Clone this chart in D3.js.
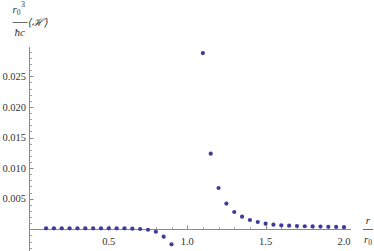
<!DOCTYPE html>
<html><head><meta charset="utf-8">
<script src="https://cdn.jsdelivr.net/npm/d3@7"></script>
<style>
html,body{margin:0;padding:0;background:#fff;}
svg{display:block;}
text{font-family:"Liberation Serif","DejaVu Serif",serif;fill:#333;}
</style></head>
<body>
<script>
const rValues = [0.10,0.15,0.20,0.25,0.30,0.35,0.40,0.45,0.50,0.55,0.60,0.65,0.70,0.75,0.80,0.85,0.90,
                 1.10,1.15,1.20,1.25,1.30,1.35,1.40,1.45,1.50,1.55,1.60,1.65,1.70,1.75,1.80,1.85,1.90,1.95,2.00];
const hValues = [0.00016,0.00016,0.00016,0.00016,0.00016,0.00016,0.00016,0.00016,0.00016,0.00016,0.00016,0.00011,0.00005,-0.00007,-0.0004,-0.0012,-0.00245,
                 0.0288,0.01235,0.00675,0.0042,0.00283,0.00206,0.00152,0.00119,0.00092,0.00075,0.00065,0.00059,0.00054,0.0005,0.00047,0.00044,0.00041,0.00038,0.00035];
const xTickLabels = ["0.5","1.0","1.5","2.0"];
const xTickValues = [0.5,1.0,1.5,2.0];
const yTickLabels = ["0.005","0.010","0.015","0.020","0.025"];
const yTickValues = [0.005,0.010,0.015,0.020,0.025];

const W=374,H=251;
const svg=d3.select("body").append("svg").attr("width",W).attr("height",H);
const x=d3.scaleLinear().domain([0,2]).range([30.4,344]);
const y=d3.scaleLinear().domain([0,0.025]).range([229.3,76.3]);
const axisColor="#8a8a8a";
const x0=29.5, y0=229.5;

// y axis line
svg.append("line").attr("x1",x0).attr("x2",x0).attr("y1",47).attr("y2",251).attr("stroke",axisColor).attr("stroke-width",1);
// x axis line
svg.append("line").attr("x1",29).attr("x2",351).attr("y1",y0).attr("y2",y0).attr("stroke",axisColor).attr("stroke-width",1);

// y minor ticks
const yMinor=d3.range(-3,30).map(d=>d*0.001).filter(v=>Math.round(v*1000)%5!==0);
svg.selectAll(".ym").data(yMinor).enter().append("line")
  .attr("x1",x0).attr("x2",x0+2.5).attr("y1",d=>Math.round(y(d))+0.5).attr("y2",d=>Math.round(y(d))+0.5)
  .attr("stroke",axisColor).attr("stroke-width",0.8);
svg.selectAll(".yM").data(yTickValues).enter().append("line")
  .attr("x1",x0).attr("x2",x0+4).attr("y1",d=>Math.round(y(d))+0.5).attr("y2",d=>Math.round(y(d))+0.5)
  .attr("stroke",axisColor).attr("stroke-width",1);
svg.selectAll(".yl").data(yTickValues).enter().append("text")
  .attr("x",26).attr("y",d=>y(d)+3.6).attr("text-anchor","end").attr("font-size","10.5px")
  .text((d,i)=>yTickLabels[i]);

// x ticks
const xMinor=d3.range(1,21).map(d=>d*0.1).filter(v=>Math.round(v*10)%5!==0);
svg.selectAll(".xm").data(xMinor).enter().append("line")
  .attr("x1",d=>Math.round(x(d))+0.5).attr("x2",d=>Math.round(x(d))+0.5).attr("y1",y0).attr("y2",y0-2.5)
  .attr("stroke",axisColor).attr("stroke-width",0.8);
svg.selectAll(".xM").data(xTickValues).enter().append("line")
  .attr("x1",d=>Math.round(x(d))+0.5).attr("x2",d=>Math.round(x(d))+0.5).attr("y1",y0).attr("y2",y0-4)
  .attr("stroke",axisColor).attr("stroke-width",1);
svg.selectAll(".xl").data(xTickValues).enter().append("text")
  .attr("x",d=>x(d)).attr("y",245).attr("text-anchor","middle").attr("font-size","10.5px")
  .text((d,i)=>xTickLabels[i]);

// points
svg.selectAll(".pt").data(rValues).enter().append("circle")
  .attr("cx",(d)=>x(d)).attr("cy",(d,i)=>y(hValues[i])).attr("r",2.1).attr("fill","#3d3d99");

// x axis label  r / r0
const xl=svg.append("g");
xl.append("text").attr("x",368).attr("y",224).attr("text-anchor","middle").attr("font-size","11px").attr("font-style","italic").text("r");
xl.append("line").attr("x1",363).attr("x2",373).attr("y1",229.5).attr("y2",229.5).attr("stroke","#444").attr("stroke-width",0.8);
const r0=xl.append("text").attr("x",364).attr("y",243).attr("font-size","11px");
r0.append("tspan").attr("font-style","italic").text("r");
r0.append("tspan").attr("font-size","7.5px").attr("dy",2).text("0");

// y axis label  r0^3 / ħc <H>
const yl=svg.append("g");
const num=yl.append("text").attr("x",12.5).attr("y",13).attr("font-size","11px");
num.append("tspan").attr("font-style","italic").text("r");
num.append("tspan").attr("font-size","7.5px").attr("dy",2).text("0");
num.append("tspan").attr("font-size","8px").attr("dy",-8).attr("dx",0.5).text("3");
yl.append("line").attr("x1",12.5).attr("x2",27.5).attr("y1",22.5).attr("y2",22.5).attr("stroke","#444").attr("stroke-width",0.8);
yl.append("text").attr("x",14.5).attr("y",36).attr("font-size","11px").attr("font-style","italic").text("ħc");
yl.append("text").attr("x",28).attr("y",26).attr("font-size","11px").attr("font-style","italic").text("⟨ℋ⟩");
</script>
</body></html>
